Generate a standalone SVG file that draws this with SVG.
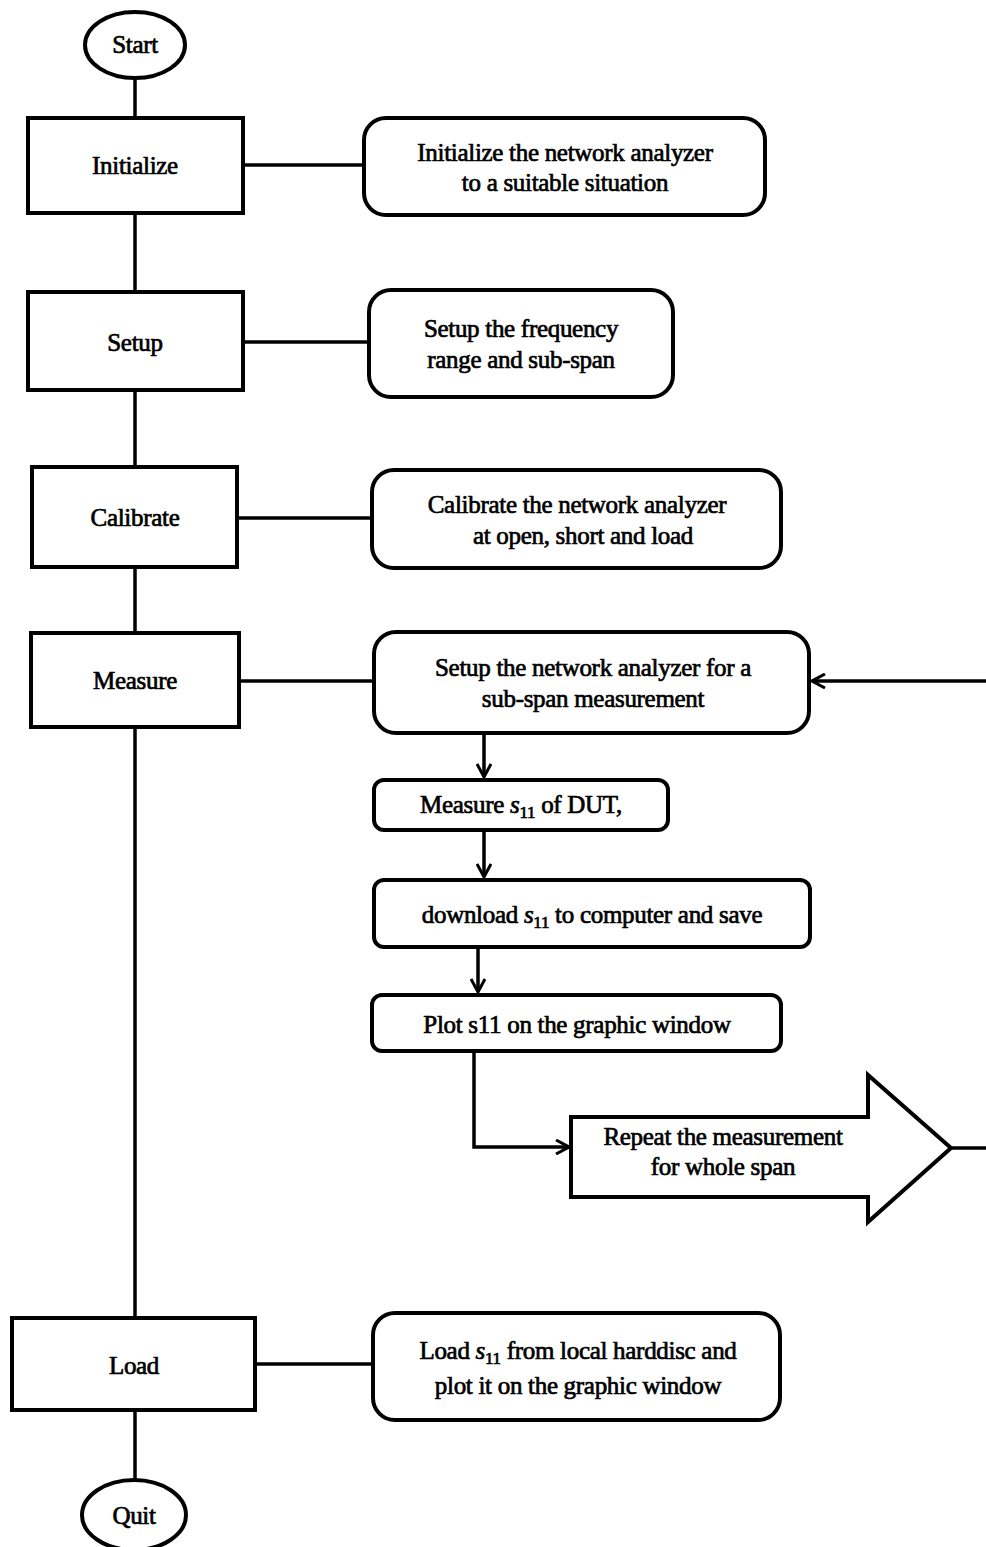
<svg xmlns="http://www.w3.org/2000/svg" width="986" height="1547" viewBox="0 0 986 1547" font-family="'Liberation Serif', Tinos, 'Times New Roman', Times, serif">
<style>
.box{fill:#fff;stroke:#000;stroke-width:4}
.ln{fill:none;stroke:#000;stroke-width:3.5}
text{font-family:'Liberation Serif', Tinos, 'Times New Roman', Times, serif;font-size:25px;fill:#000;text-anchor:middle;stroke:#000;stroke-width:0.7;letter-spacing:-0.3px}
.it{font-style:italic}
.sub{font-size:17px}
</style>
<defs>
<marker id="ah" markerWidth="16" markerHeight="16" refX="14" refY="8" orient="auto" markerUnits="userSpaceOnUse">
<path d="M1,1 L14,8 L1,15" fill="none" stroke="#000" stroke-width="3"/>
</marker>
</defs>
<rect width="986" height="1547" fill="#fff"/>
<g id="connectors">
<line class="ln" x1="135" y1="77" x2="135" y2="118"/>
<line class="ln" x1="135" y1="213" x2="135" y2="292"/>
<line class="ln" x1="135" y1="390" x2="135" y2="467"/>
<line class="ln" x1="135" y1="567" x2="135" y2="633"/>
<line class="ln" x1="135" y1="727" x2="135" y2="1318"/>
<line class="ln" x1="135" y1="1410" x2="135" y2="1480"/>
<line class="ln" x1="243" y1="165" x2="364" y2="165"/>
<line class="ln" x1="243" y1="342" x2="369" y2="342"/>
<line class="ln" x1="237" y1="518" x2="372" y2="518"/>
<line class="ln" x1="239" y1="681" x2="374" y2="681"/>
<line class="ln" x1="255" y1="1364" x2="373" y2="1364"/>
<line class="ln" x1="986" y1="681" x2="812" y2="681" marker-end="url(#ah)"/>
<line class="ln" x1="484" y1="733" x2="484" y2="777" marker-end="url(#ah)"/>
<line class="ln" x1="484" y1="830" x2="484" y2="877" marker-end="url(#ah)"/>
<line class="ln" x1="478" y1="947" x2="478" y2="992" marker-end="url(#ah)"/>
<polyline class="ln" points="474,1051 474,1147 569,1147" marker-end="url(#ah)"/>
<line class="ln" x1="951" y1="1148" x2="986" y2="1148"/>
</g>
<g id="start">
<ellipse class="box" cx="135" cy="45" rx="50" ry="33"/>
<text x="135" y="53">Start</text>
</g>
<g id="initialize">
<rect class="box" x="28" y="118" width="215" height="95"/>
<text x="135" y="174">Initialize</text>
</g>
<g id="initialize-desc">
<rect class="box" x="364" y="118" width="401" height="97" rx="22"/>
<text x="565" y="161">Initialize the network analyzer</text>
<text x="565" y="191">to a suitable situation</text>
</g>
<g id="setup">
<rect class="box" x="28" y="292" width="215" height="98"/>
<text x="135" y="351">Setup</text>
</g>
<g id="setup-desc">
<rect class="box" x="369" y="290" width="304" height="107" rx="22"/>
<text x="521" y="337">Setup the frequency</text>
<text x="521" y="368">range and sub-span</text>
</g>
<g id="calibrate">
<rect class="box" x="32" y="467" width="205" height="100"/>
<text x="135" y="526">Calibrate</text>
</g>
<g id="calibrate-desc">
<rect class="box" x="372" y="470" width="409" height="98" rx="22"/>
<text x="577" y="513">Calibrate the network analyzer</text>
<text x="583" y="544">at open, short and load</text>
</g>
<g id="measure">
<rect class="box" x="31" y="633" width="208" height="94"/>
<text x="135" y="689">Measure</text>
</g>
<g id="measure-setup">
<rect class="box" x="374" y="632" width="435" height="101" rx="22"/>
<text x="593" y="676">Setup the network analyzer for a</text>
<text x="593" y="707">sub-span measurement</text>
</g>
<g id="measure-s11">
<rect class="box" x="374" y="780" width="294" height="50" rx="10"/>
<text x="521" y="813">Measure <tspan class="it">s</tspan><tspan class="sub" dy="5">11</tspan><tspan dy="-5"> of DUT,</tspan></text>
</g>
<g id="download">
<rect class="box" x="374" y="880" width="436" height="67" rx="10"/>
<text x="592" y="923">download <tspan class="it">s</tspan><tspan class="sub" dy="5">11</tspan><tspan dy="-5"> to computer and save</tspan></text>
</g>
<g id="plot">
<rect class="box" x="372" y="995" width="409" height="56" rx="10"/>
<text x="577" y="1033">Plot s11 on the graphic window</text>
</g>
<g id="repeat">
<polygon class="box" points="571,1117 868,1117 868,1075 951,1148 868,1222 868,1197 571,1197"/>
<text x="723" y="1145">Repeat the measurement</text>
<text x="723" y="1175">for whole span</text>
</g>
<g id="load">
<rect class="box" x="12" y="1318" width="243" height="92"/>
<text x="134" y="1374">Load</text>
</g>
<g id="load-desc">
<rect class="box" x="373" y="1313" width="407" height="107" rx="22"/>
<text x="578" y="1359">Load <tspan class="it">s</tspan><tspan class="sub" dy="5">11</tspan><tspan dy="-5"> from local harddisc and</tspan></text>
<text x="578" y="1394">plot it on the graphic window</text>
</g>
<g id="quit">
<ellipse class="box" cx="134" cy="1515" rx="52" ry="35"/>
<text x="134" y="1524">Quit</text>
</g>
</svg>
